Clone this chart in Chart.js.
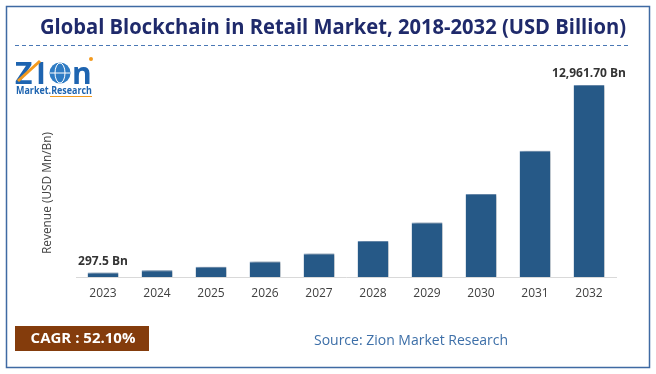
<!DOCTYPE html>
<html>
<head>
<meta charset="utf-8">
<script src="https://cdn.jsdelivr.net/npm/chart.js@4/dist/chart.umd.min.js"></script>
<style>
  html, body { margin: 0; padding: 0; background: #fff; }
  #wrap { width: 656px; height: 374px; position: relative; }
</style>
</head>
<body>
<div id="wrap"><canvas id="blockchainChart" width="656" height="374"></canvas></div>
<script>
const years = ['2023', '2024', '2025', '2026', '2027', '2028', '2029', '2030', '2031', '2032'];
const revenue = [297.5, 452, 688, 1047, 1593, 2423, 3685, 5605, 8525, 12961.7];
const barLabels = ['297.5 Bn', '', '', '', '', '', '', '', '', '12,961.70 Bn'];

const titleText = 'Global Blockchain in Retail Market, 2018-2032 (USD Billion)';
const yTitle = 'Revenue (USD Mn/Bn)';
const cagrText = 'CAGR : 52.10%';
const sourceText = 'Source: Zion Market Research';

const FONT = '"Open Sans", "DejaVu Sans", sans-serif';

// frame, title, logo, footer
const decorPlugin = {
    id: 'decor',
    beforeDraw(chart) {
        const ctx = chart.ctx;
        ctx.save();
        ctx.fillStyle = '#fff';
        ctx.fillRect(0, 0, chart.width, chart.height);

        ctx.strokeStyle = '#3f6aa3';
        ctx.lineWidth = 1.5;
        ctx.strokeRect(6.5, 6.5, 643, 361);

        ctx.fillStyle = '#1f2a6b';
        ctx.font = 'bold 21px ' + FONT;
        ctx.textAlign = 'center';
        ctx.textBaseline = 'middle';
        ctx.fillText(titleText, 333, 28, 586);

        ctx.strokeStyle = '#4a78b5';
        ctx.lineWidth = 1;
        ctx.setLineDash([4, 3]);
        ctx.beginPath();
        ctx.moveTo(15, 45.5);
        ctx.lineTo(628, 45.5);
        ctx.stroke();
        ctx.setLineDash([]);

        // logo
        ctx.textAlign = 'left';
        ctx.textBaseline = 'alphabetic';
        ctx.font = 'bold 30px ' + FONT;
        ctx.fillStyle = '#1e64b0';
        ctx.fillText('Z', 15, 84);
        ctx.fillText('I', 36, 84);
        ctx.beginPath();
        ctx.arc(60, 73, 10.5, 0, Math.PI * 2);
        ctx.fillStyle = '#2f7cc4';
        ctx.fill();
        ctx.strokeStyle = '#fff';
        ctx.lineWidth = 1;
        ctx.beginPath();
        ctx.ellipse(60, 73, 5, 10, 0, 0, Math.PI * 2);
        ctx.moveTo(50, 73); ctx.lineTo(70, 73);
        ctx.stroke();
        ctx.fillStyle = '#1e64b0';
        ctx.fillText('n', 72, 84);
        ctx.strokeStyle = '#f39a1e';
        ctx.lineWidth = 3;
        ctx.beginPath();
        ctx.moveTo(18, 81); ctx.lineTo(40, 61);
        ctx.stroke();
        ctx.fillStyle = '#f39a1e';
        ctx.beginPath();
        ctx.arc(91, 59, 2, 0, Math.PI * 2);
        ctx.fill();
        ctx.font = 'bold 10px ' + FONT;
        ctx.fillStyle = '#1e64b0';
        ctx.fillText('Market.Research', 16, 94, 76);
        ctx.strokeStyle = '#f39a1e';
        ctx.lineWidth = 1;
        ctx.beginPath();
        ctx.moveTo(50, 96.5); ctx.lineTo(92, 96.5);
        ctx.stroke();

        // y title
        ctx.save();
        ctx.translate(48, 193);
        ctx.rotate(-Math.PI / 2);
        ctx.textAlign = 'center';
        ctx.textBaseline = 'middle';
        ctx.font = '12px ' + FONT;
        ctx.fillStyle = '#444';
        ctx.fillText(yTitle, 0, 0, 122);
        ctx.restore();

        // footer
        ctx.fillStyle = '#843c0c';
        ctx.fillRect(15, 326, 134, 25);
        ctx.fillStyle = '#fff';
        ctx.font = 'bold 15px ' + FONT;
        ctx.textAlign = 'center';
        ctx.textBaseline = 'middle';
        ctx.fillText(cagrText, 83, 339, 110);
        ctx.fillStyle = '#3d6fa8';
        ctx.font = '14px ' + FONT;
        ctx.fillText(sourceText, 411, 341, 194);
        ctx.restore();
    },
    beforeDatasetsDraw(chart) {
        const ctx = chart.ctx;
        ctx.save();
        ctx.shadowColor = 'rgba(0,0,0,0.4)';
        ctx.shadowOffsetX = 3;
        ctx.shadowOffsetY = 1;
        ctx.shadowBlur = 4;
    },
    afterDatasetsDraw(chart) {
        const ctx = chart.ctx;
        ctx.restore();
        const meta = chart.getDatasetMeta(0);
        ctx.save();
        ctx.font = 'bold 12px ' + FONT;
        ctx.fillStyle = '#333';
        ctx.textAlign = 'center';
        ctx.textBaseline = 'bottom';
        meta.data.forEach((bar, i) => {
            if (barLabels[i]) ctx.fillText(barLabels[i], bar.x, bar.y - 5);
        });
        ctx.restore();
    }
};

const ctx = document.getElementById('blockchainChart').getContext('2d');
new Chart(ctx, {
    type: 'bar',
    data: {
        labels: years,
        datasets: [{
            data: revenue,
            backgroundColor: '#265987',
            borderColor: '#6f93b8',
            borderWidth: { top: 1, left: 0, right: 0, bottom: 0 },
            barPercentage: 0.57,
            categoryPercentage: 1
        }]
    },
    options: {
        responsive: false,
        animation: false,
        layout: { padding: { left: 76, right: 40, top: 85, bottom: 0 } },
        plugins: { legend: { display: false }, tooltip: { enabled: false } },
        scales: {
            x: {
                grid: { display: false, drawTicks: false },
                border: { color: '#d9d9d9', width: 1 },
                ticks: { color: '#404040', font: { family: FONT, size: 12 }, padding: 9 },
                afterFit(scale) { scale.height = 97; }
            },
            y: {
                display: false,
                min: 0,
                max: 12961.7
            }
        }
    },
    plugins: [decorPlugin]
});
</script>
</body>
</html>
